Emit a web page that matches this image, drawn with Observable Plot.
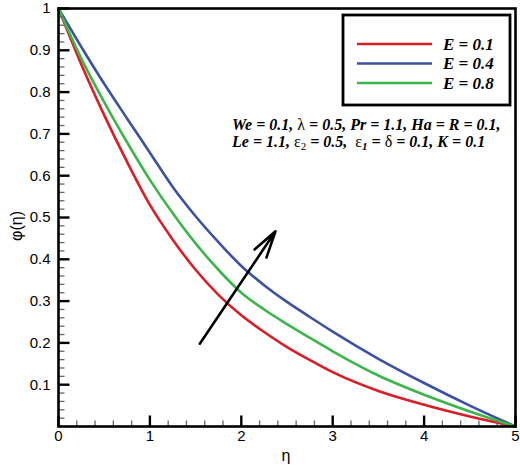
<!DOCTYPE html>
<html>
<head>
<meta charset="utf-8">
<script src="https://cdn.jsdelivr.net/npm/d3@7"></script>
<script src="https://cdn.jsdelivr.net/npm/@observablehq/plot@0.6"></script>
<style>
  html, body { margin: 0; padding: 0; background: #fff; }
  svg { display: block; }
</style>
</head>
<body>
<div id="chart"></div>
<script>
// ---- data ----
const eta    = [0, 0.25, 0.5, 0.75, 1, 1.25, 1.5, 1.75, 2, 2.25, 2.5, 2.75, 3, 3.5, 4, 4.5, 5];
const phiE01 = [1, 0.866, 0.745, 0.633, 0.53, 0.447, 0.375, 0.315, 0.266, 0.226, 0.19, 0.159, 0.13, 0.085, 0.052, 0.024, 0];
const phiE04 = [1, 0.908, 0.82, 0.737, 0.655, 0.573, 0.503, 0.441, 0.384, 0.338, 0.298, 0.262, 0.227, 0.162, 0.104, 0.05, 0];
const phiE08 = [1, 0.88, 0.776, 0.68, 0.59, 0.51, 0.438, 0.375, 0.32, 0.28, 0.245, 0.212, 0.18, 0.122, 0.076, 0.036, 0];
const seriesNames  = ["E = 0.1", "E = 0.4", "E = 0.8"];
const seriesColors = ["#d81e26", "#3b52a3", "#3db54a"];
const xTicks = [0, 1, 2, 3, 4, 5];
const yTicks = [0.1, 0.2, 0.3, 0.4, 0.5, 0.6, 0.7, 0.8, 0.9, 1];
const xMinor = [0.2, 0.4, 0.6, 0.8, 1.2, 1.4, 1.6, 1.8, 2.2, 2.4, 2.6, 2.8, 3.2, 3.4, 3.6, 3.8, 4.2, 4.4, 4.6, 4.8];
const yMinor = [0.02, 0.04, 0.06, 0.08, 0.12, 0.14, 0.16, 0.18, 0.22, 0.24, 0.26, 0.28, 0.32, 0.34, 0.36, 0.38,
                0.42, 0.44, 0.46, 0.48, 0.52, 0.54, 0.56, 0.58, 0.62, 0.64, 0.66, 0.68, 0.72, 0.74, 0.76, 0.78,
                0.82, 0.84, 0.86, 0.88, 0.92, 0.94, 0.96, 0.98];
const arrowFrom = {eta: 1.546, phi: 0.198};
const arrowTo   = {eta: 2.374, phi: 0.467};

const series = [phiE01, phiE04, phiE08];
const rows = series.flatMap((vals, s) => vals.map((v, i) => ({eta: eta[i], phi: v, E: seriesNames[s]})));

const W = 520, H = 467, ML = 58, MR = 5, MT = 8, MB = 41;
const innerW = W - ML - MR, innerH = H - MT - MB;
const xDom = [0, 5], yDom = [0, 1];
const tx = px => px / innerW * (xDom[1] - xDom[0]);
const ty = px => px / innerH * (yDom[1] - yDom[0]);
const xMinorRows = xMinor.map(v => ({v}));
const yMinorRows = yMinor.map(v => ({v}));
const xMajorRows = xTicks.map(v => ({v}));
const yMajorRows = yTicks.map(v => ({v}));

const plot = Plot.plot({
  width: W,
  height: H,
  marginLeft: ML,
  marginRight: MR,
  marginTop: MT,
  marginBottom: MB,
  style: {fontFamily: "'Liberation Sans', Arial, sans-serif", fontSize: "15px", color: "#000", background: "#fff"},
  x: {domain: xDom, label: null},
  y: {domain: yDom, label: null},
  color: {domain: seriesNames, range: seriesColors},
  marks: [
    Plot.line(rows, {x: "eta", y: "phi", z: "E", stroke: "E", strokeWidth: 2.6, curve: "monotone-x"}),
    Plot.arrow([{x1: arrowFrom.eta, y1: arrowFrom.phi, x2: arrowTo.eta, y2: arrowTo.phi}],
      {x1: "x1", y1: "y1", x2: "x2", y2: "y2", stroke: "#000", strokeWidth: 2.6, headLength: 16, headAngle: 30}),
    // inward ticks as links in data space
    Plot.link(xMinorRows, {x1: "v", x2: "v", y1: () => yDom[0], y2: () => yDom[0] + ty(6), stroke: "#666", strokeWidth: 1.3}),
    Plot.link(yMinorRows, {y1: "v", y2: "v", x1: () => xDom[0], x2: () => xDom[0] + tx(6), stroke: "#666", strokeWidth: 1.3}),
    Plot.link(xMajorRows, {x1: "v", x2: "v", y1: () => yDom[0], y2: () => yDom[0] + ty(11), stroke: "#000", strokeWidth: 2.4}),
    Plot.link(yMajorRows, {y1: "v", y2: "v", x1: () => xDom[0], x2: () => xDom[0] + tx(11), stroke: "#000", strokeWidth: 2.4}),
    // tick labels
    Plot.axisX(xTicks, {anchor: "bottom", tickSize: 0, tickPadding: 4, fontSize: 15, label: null, tickFormat: d => String(d)}),
    Plot.axisY(yTicks, {anchor: "left", tickSize: 0, tickPadding: 8, fontSize: 15, label: null, tickFormat: d => String(d)}),
    Plot.frame({stroke: "#000", strokeWidth: 2.6})
  ]
});
document.getElementById("chart").appendChild(plot);

const svg = d3.select(plot);

// axis titles
svg.append("text").attr("x", 286).attr("y", 461).attr("text-anchor", "middle")
  .attr("font-family", "'Liberation Sans', Arial, sans-serif").attr("font-size", 16).text("η");
svg.append("text").attr("transform", "translate(22,226) rotate(-90)").attr("text-anchor", "middle")
  .attr("font-family", "'Liberation Sans', Arial, sans-serif").attr("font-size", 16).text("φ(η)");

// legend box
const lg = svg.append("g").attr("text-anchor", "start");
lg.append("rect").attr("x", 343).attr("y", 15).attr("width", 167).attr("height", 90)
  .attr("fill", "#fff").attr("stroke", "#000").attr("stroke-width", 2.8);
const legendY = [44, 63.5, 83];
seriesNames.forEach((name, i) => {
  lg.append("line").attr("x1", 357).attr("x2", 432).attr("y1", legendY[i]).attr("y2", legendY[i])
    .attr("stroke", seriesColors[i]).attr("stroke-width", 2.6);
  lg.append("text").attr("x", 443).attr("y", legendY[i] + 5.5).attr("text-anchor", "start")
    .attr("font-family", "'Liberation Serif', 'Times New Roman', serif")
    .attr("font-weight", "bold").attr("font-style", "italic").attr("font-size", 17)
    .attr("xml:space", "preserve").text(name);
});

// parameter annotation
const ann = svg.append("g").attr("text-anchor", "start")
  .attr("font-family", "'Liberation Serif', 'Times New Roman', serif")
  .attr("font-size", 16).attr("font-weight", "bold").attr("font-style", "italic");
function line(y, parts) {
  const t = ann.append("text").attr("x", 232).attr("y", y).attr("text-anchor", "start").attr("xml:space", "preserve");
  parts.forEach(p => {
    const s = t.append("tspan").text(p.t);
    if (p.g) s.attr("font-style", "normal").attr("font-weight", "normal");
    if (p.sub) s.attr("baseline-shift", "-25%").attr("font-size", 11);
  });
}
line(130, [{t: "We = 0.1, "}, {t: "λ", g: 1}, {t: " = 0.5, Pr = 1.1, Ha = R = 0.1,"}]);
line(147, [{t: "Le = 1.1, "}, {t: "ε", g: 1}, {t: "2", g: 1, sub: 1}, {t: " = 0.5,  "}, {t: "ε", g: 1}, {t: "1", sub: 1}, {t: " = "}, {t: "δ", g: 1}, {t: " = 0.1, K = 0.1"}]);
</script>
</body>
</html>
